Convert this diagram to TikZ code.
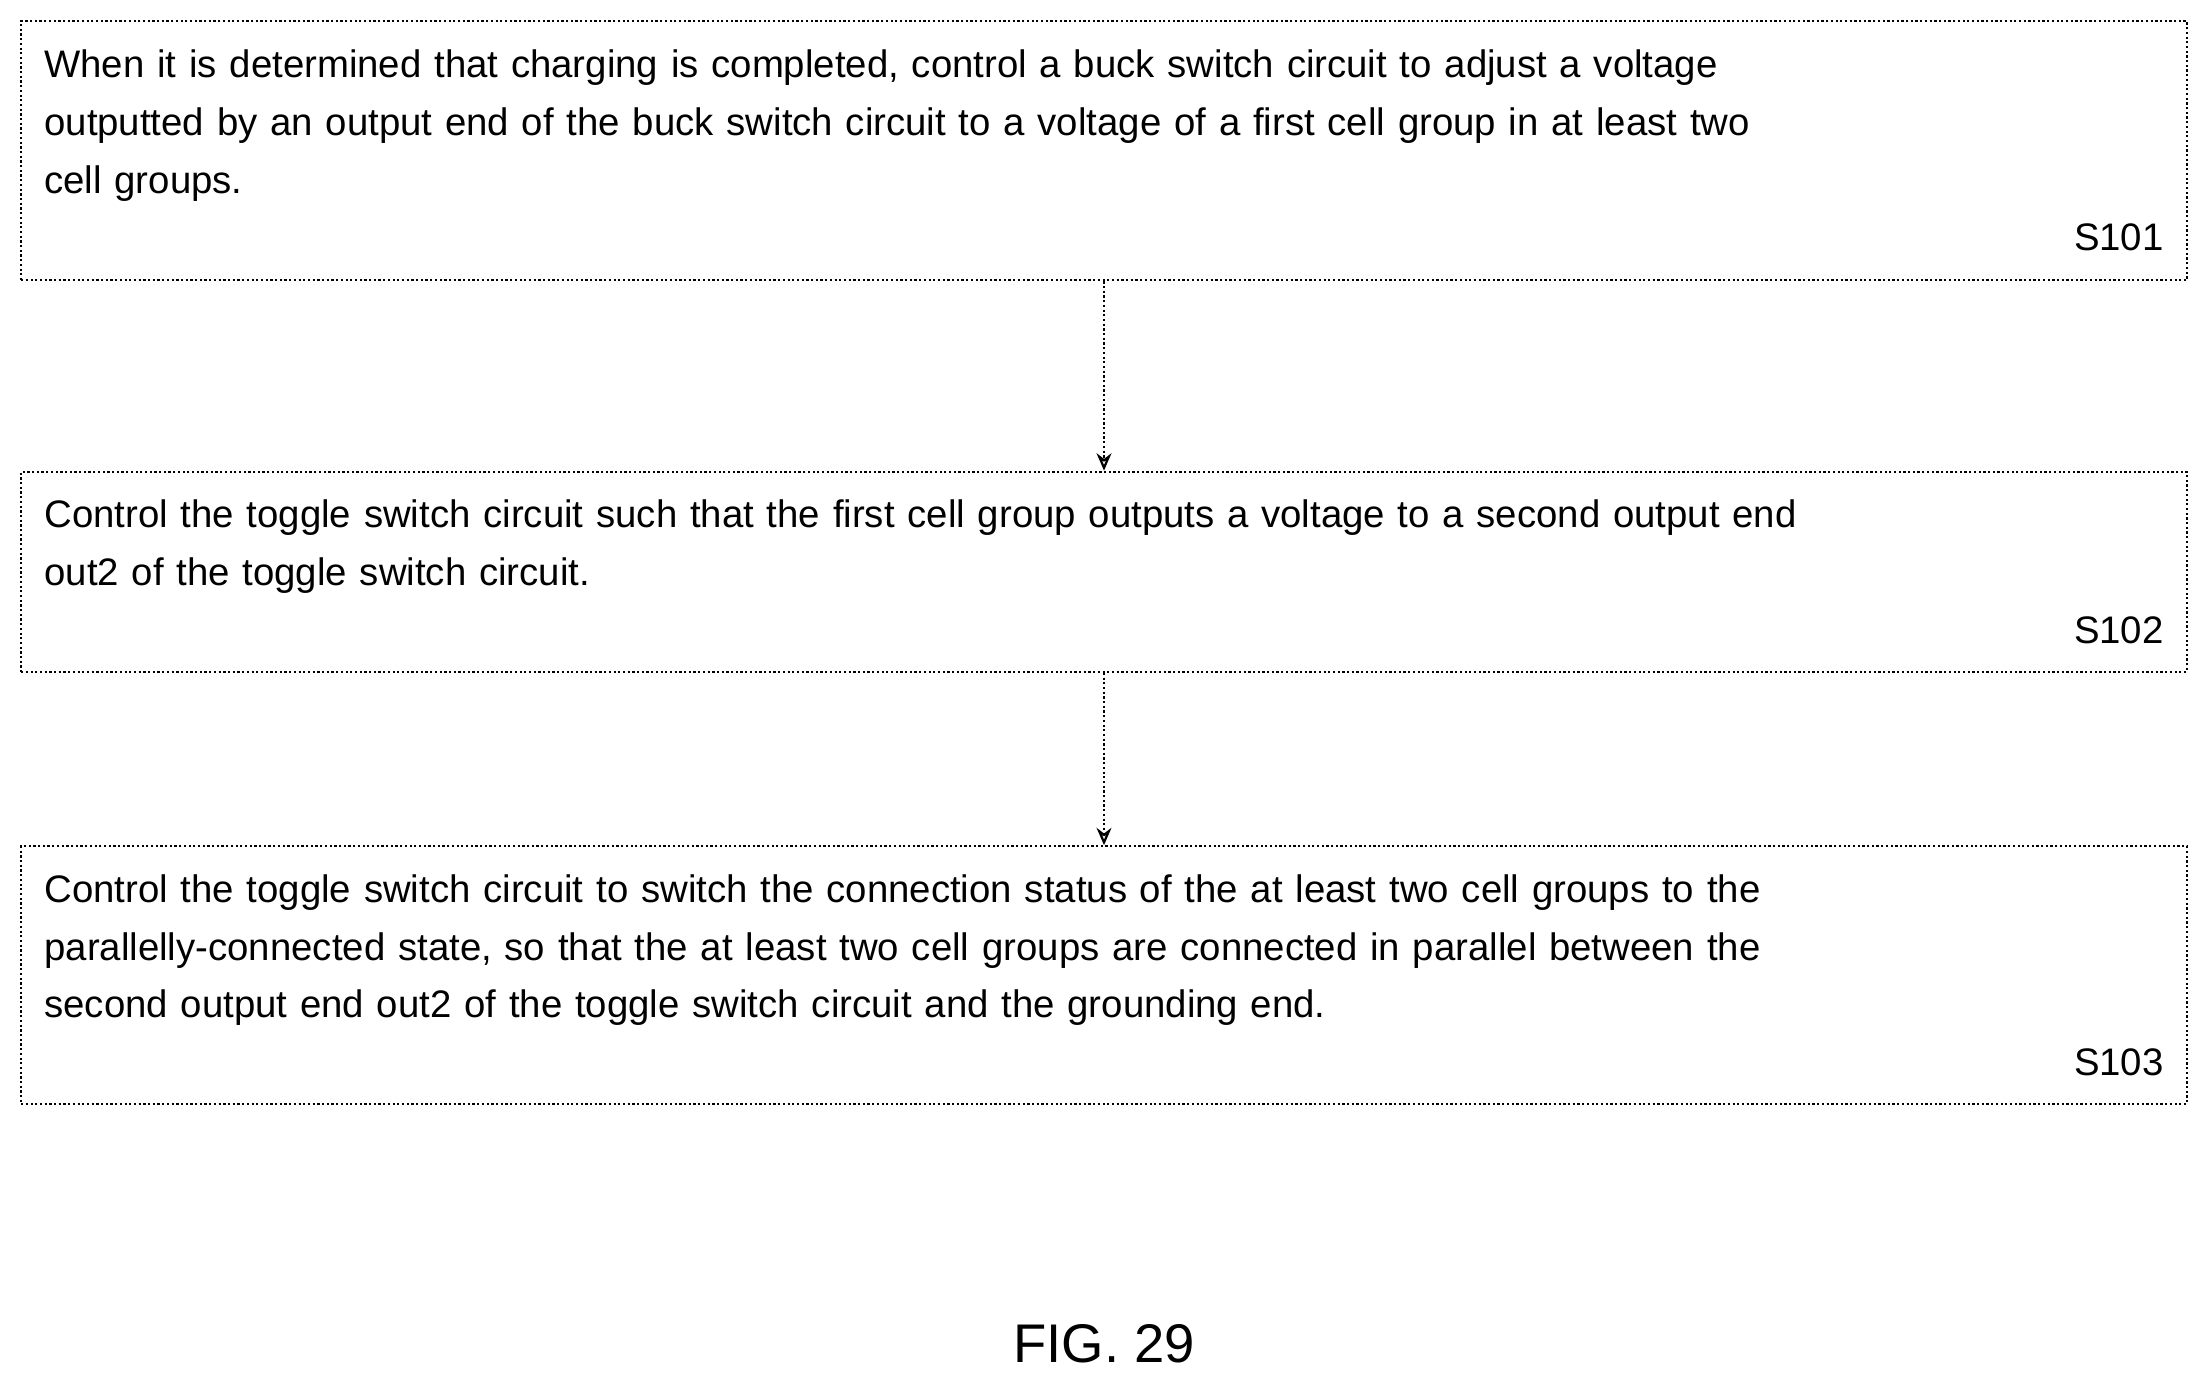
\documentclass[tikz,border=0pt]{standalone}
\usepackage{fontspec}
\setmainfont{Liberation Sans}
\usetikzlibrary{arrows.meta,positioning}

\tikzset{
  stepbox/.style={draw, densely dotted, line width=0.9pt, minimum width=30.76cm,
    text width=30.1cm, align=left, inner sep=0pt,
    font=\fontsize{15.5}{23.3}\selectfont},
  flow/.style={-{Stealth[length=7pt,width=6pt,open]}, densely dotted, line width=0.9pt}
}

\begin{document}
\begin{tikzpicture}
  \useasboundingbox (0,0) rectangle (31.36,-19.66);

  \node[stepbox, minimum height=3.68cm] (s101) at (15.68,-2.14)
    {When it is determined that charging is completed, control a buck switch circuit to adjust a voltage\\
     outputted by an output end of the buck switch circuit to a voltage of a first cell group in at least two\\
     cell groups.\\
     \hspace*{\fill}S101\hspace*{\fill}};

  \node[stepbox, minimum height=2.84cm] (s102) at (15.68,-8.12)
    {Control the toggle switch circuit such that the first cell group outputs a voltage to a second output end\\
     out2 of the toggle switch circuit.\\
     \hspace*{\fill}S102\hspace*{\fill}};

  \node[stepbox, minimum height=3.66cm] (s103) at (15.68,-13.85)
    {Control the toggle switch circuit to switch the connection status of the at least two cell groups to the\\
     parallelly-connected state, so that the at least two cell groups are connected in parallel between the\\
     second output end out2 of the toggle switch circuit and the grounding end.\\
     \hspace*{\fill}S103\hspace*{\fill}};

  \draw[flow] (s101) -- (s102);
  \draw[flow] (s102) -- (s103);

  \node[font=\fontsize{22}{26}\selectfont] (fig) at (15.68,-19.08) {FIG. 29};
\end{tikzpicture}
\end{document}
